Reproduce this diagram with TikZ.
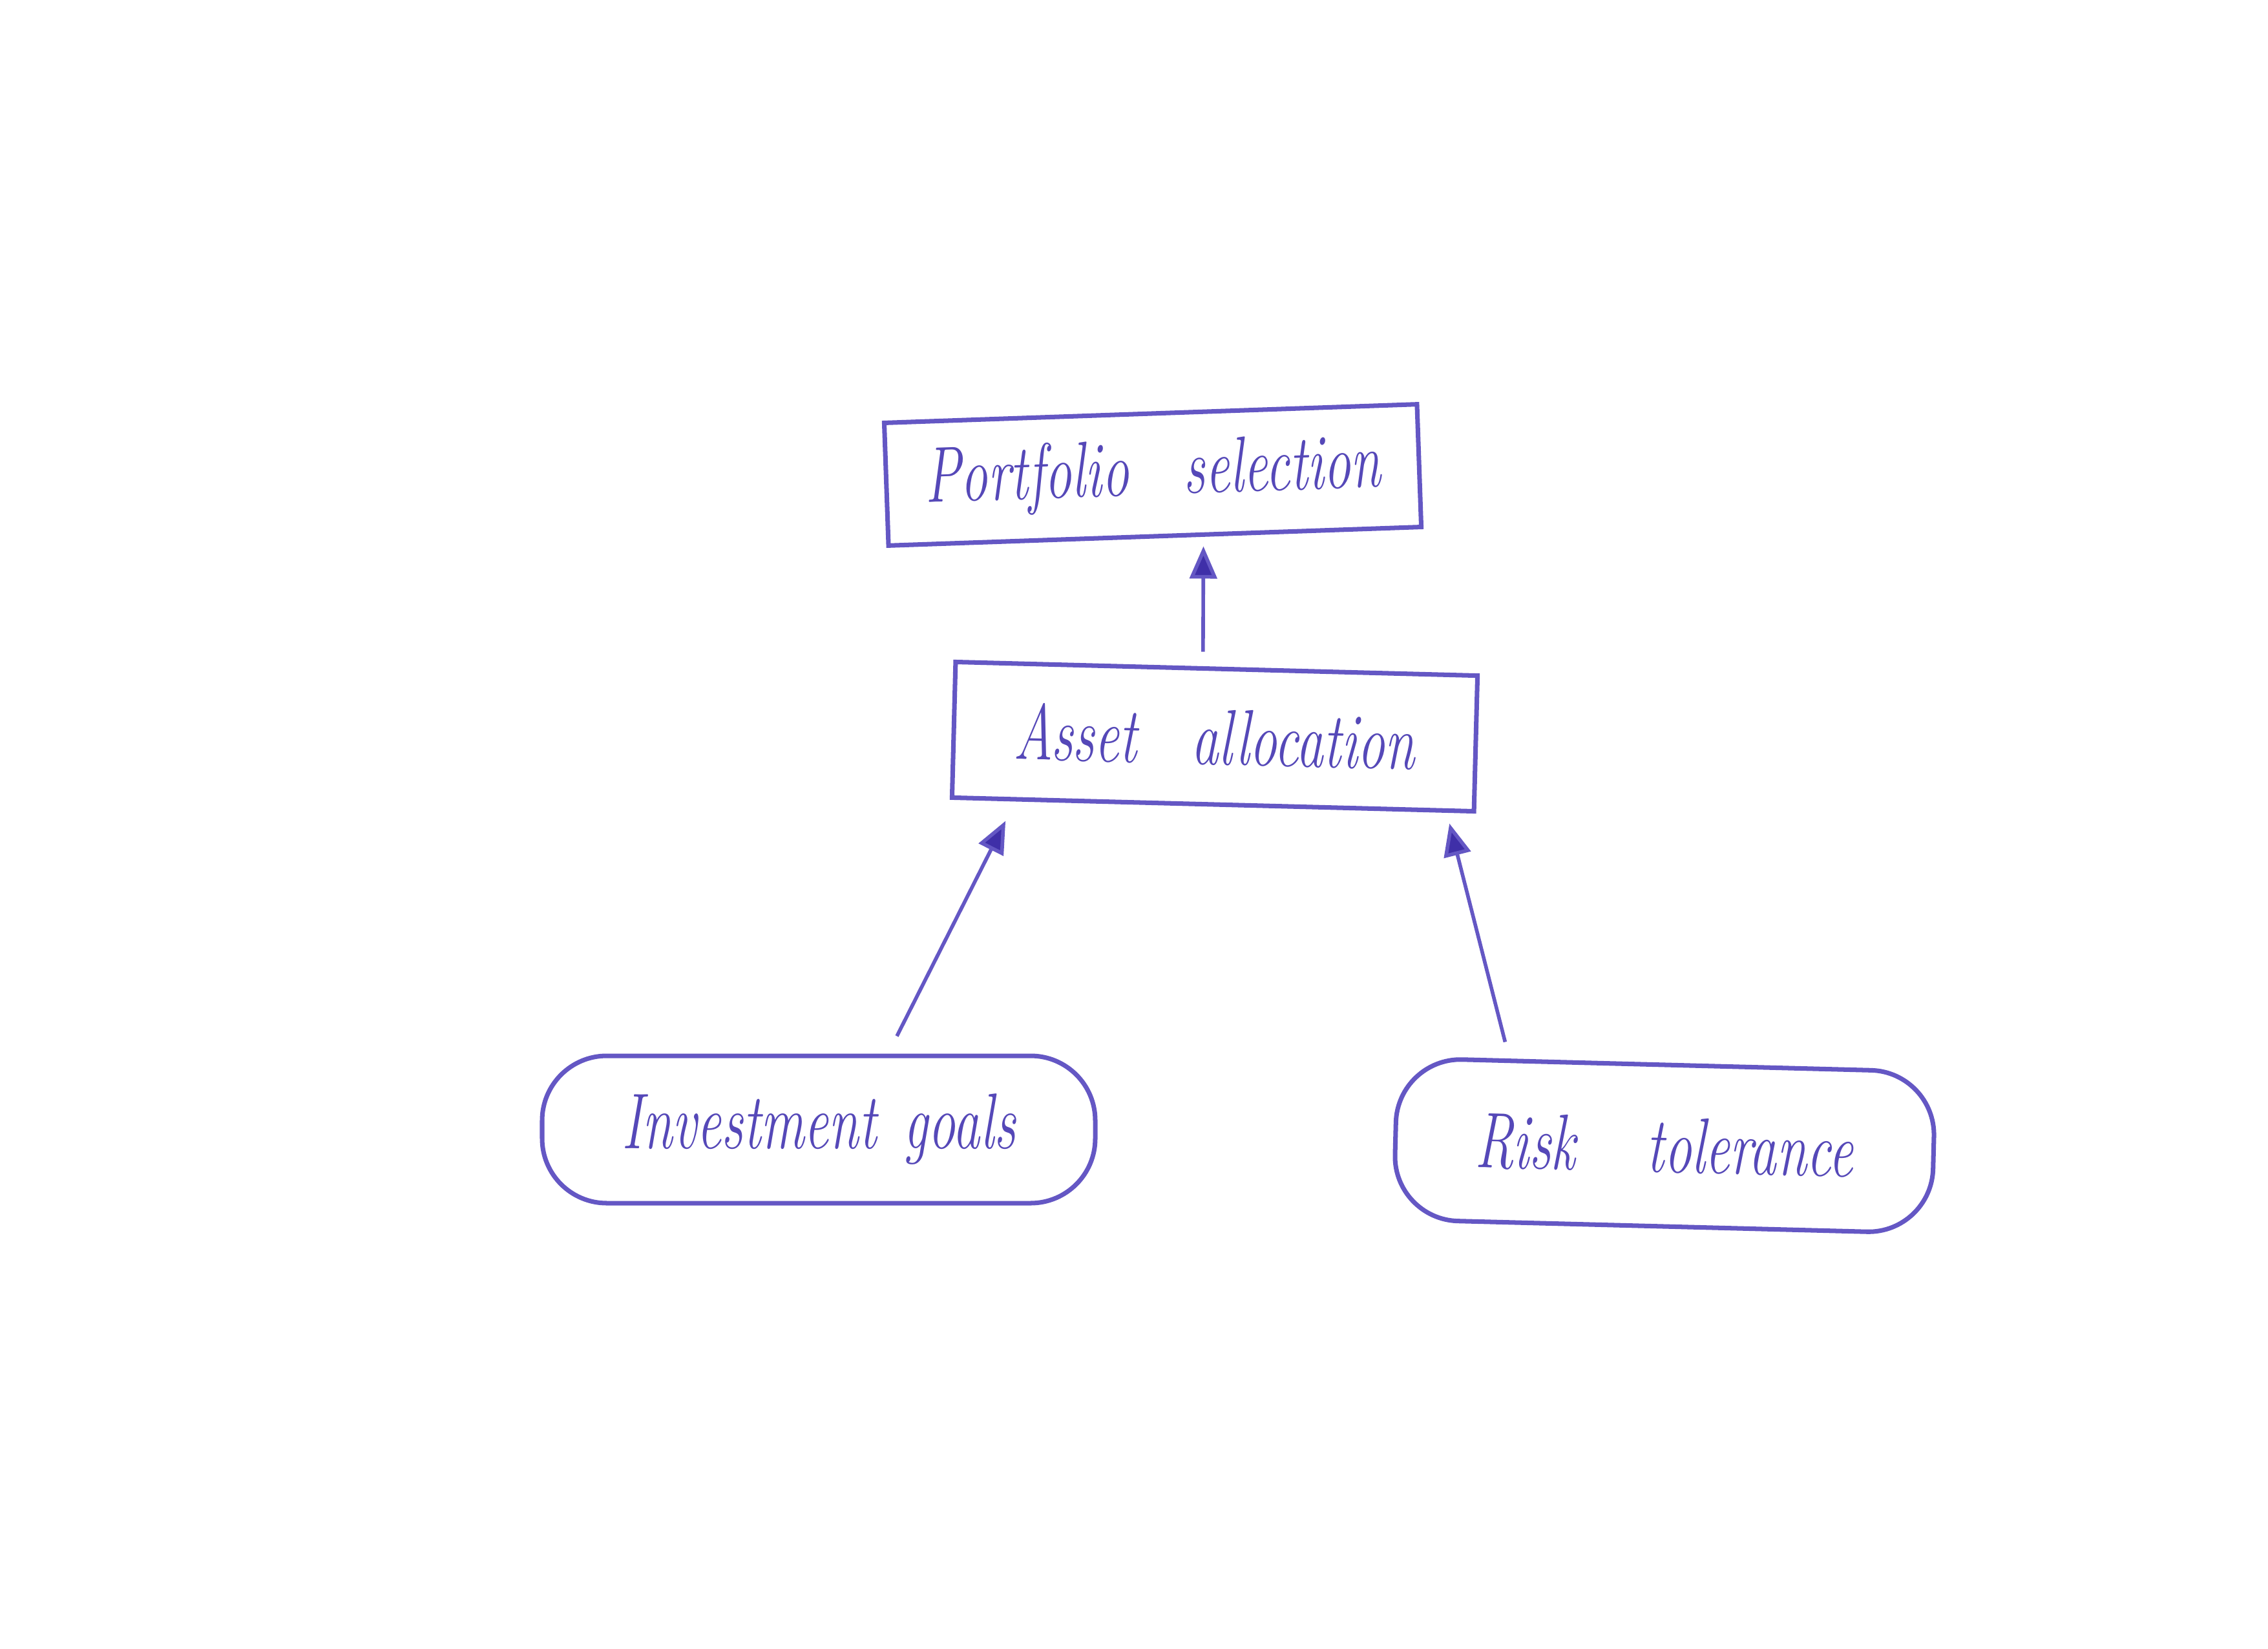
\documentclass[tikz,border=0pt]{standalone}
\usepackage{graphicx}
\usetikzlibrary{arrows.meta}
\definecolor{ink}{HTML}{6457C4}
\definecolor{inkdark}{HTML}{3F2FA8}
\definecolor{inktext}{HTML}{5548B8}
\tikzset{
  lbl/.style={font=\fontsize{24}{28}\selectfont\itshape, text=inktext, inner sep=0pt},
  boxsq/.style={lbl, draw=ink, line width=2pt, rectangle},
  boxrd/.style={lbl, draw=ink, line width=2pt, rectangle, rounded corners=1cm},
  arr/.style={draw=ink, line width=1.6pt, -{Triangle[length=0.5cm,width=0.42cm,fill=inkdark]}}
}
\newcommand{\hw}[1]{\scalebox{1}[1.45]{#1}}
\begin{document}
\begin{tikzpicture}
\useasboundingbox[fill=white] (0,0) rectangle (35.10,-25.52);
\node[boxsq, minimum width=8.25cm, minimum height=1.9cm, rotate=2] (port) at (17.84,-7.35) {\hw{Portfolio\quad selection}};
\node[boxsq, minimum width=8.08cm, minimum height=2.1cm, rotate=-1.5] (asset) at (18.80,-11.40) {\hw{Asset\quad allocation}};
\node[boxrd, minimum width=8.56cm, minimum height=2.28cm] (inv) at (12.67,-17.48) {\hw{Investment\enspace goals}};
\node[boxrd, minimum width=8.33cm, minimum height=2.5cm, rotate=-1.5] (risk) at (25.76,-17.73) {\hw{Risk\hspace{1.1cm}tolerance}\hspace{0.6cm}};
\draw[arr] ([xshift=-0.21cm,yshift=0.23cm]asset.north) -- ([xshift=0.75cm,yshift=-0.12cm]port.south);
\draw[arr] ([xshift=1.21cm,yshift=0.27cm]inv.north) -- ([xshift=-3.21cm,yshift=-0.22cm]asset.south);
\draw[arr] ([xshift=-2.50cm,yshift=0.32cm]risk.north) -- ([xshift=3.66cm,yshift=-0.26cm]asset.south);
\end{tikzpicture}
\end{document}
